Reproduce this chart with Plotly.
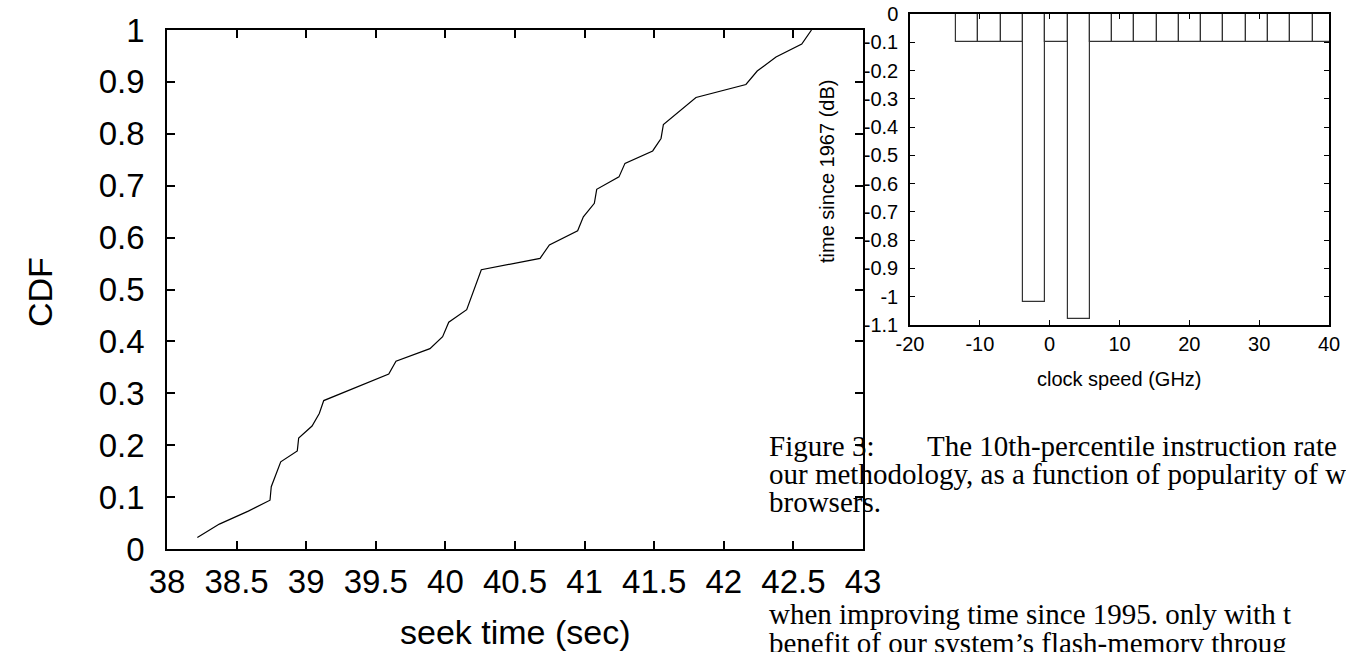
import plotly.graph_objects as go

W, H = 1346, 652

# ---- main CDF chart data ----
cdf_x = [38.218, 38.376, 38.584, 38.74, 38.749, 38.817, 38.936, 38.946, 39.042, 39.094,
         39.126, 39.593, 39.645, 39.889, 39.98, 40.024, 40.153, 40.258, 40.68, 40.747,
         40.95, 40.991, 41.07, 41.087, 41.247, 41.29, 41.489, 41.549, 41.566, 41.685,
         41.80, 42.159, 42.24, 42.375, 42.56, 42.63]
cdf_y = [0.022, 0.048, 0.073, 0.094, 0.120, 0.168, 0.189, 0.214, 0.237, 0.261,
         0.286, 0.337, 0.362, 0.386, 0.409, 0.437, 0.461, 0.538, 0.560, 0.586,
         0.613, 0.640, 0.666, 0.693, 0.717, 0.743, 0.767, 0.791, 0.818, 0.845,
         0.870, 0.895, 0.921, 0.948, 0.973, 1.0]
main_xticks = [38, 38.5, 39, 39.5, 40, 40.5, 41, 41.5, 42, 42.5, 43]
main_yticks = [0, 0.1, 0.2, 0.3, 0.4, 0.5, 0.6, 0.7, 0.8, 0.9, 1]

# ---- inset bar chart data ----
inset_x = [-11.8, -8.61, -5.42, -2.23, 0.96, 4.15, 7.34, 10.53, 13.72, 16.91,
           20.1, 23.29, 26.48, 29.67, 32.86, 36.05, 39.24]
inset_y = [-0.1, -0.1, -0.1, -1.02, -0.1, -1.08, -0.1, -0.1, -0.1, -0.1,
           -0.1, -0.1, -0.1, -0.1, -0.1, -0.1, -0.1]
inset_xticks = [-20, -10, 0, 10, 20, 30, 40]
inset_xlabels = ["-20", "-10", "0", "10", "20", "30", "40"]
inset_yticks = [0, -0.1, -0.2, -0.3, -0.4, -0.5, -0.6, -0.7, -0.8, -0.9, -1, -1.1]
inset_ylabels = ["0", "-0.1", "-0.2", "-0.3", "-0.4", "-0.5", "-0.6", "-0.7", "-0.8",
                 "-0.9", "-1", "-1.1"]

caption_lines = ["our methodology, as a function of popularity of w", "browsers."]
body_lines = ["when improving time since 1995. only with t",
              "benefit of our system\u2019s flash-memory throug"]

SANS = "Liberation Sans, Arial, sans-serif"
SERIF = "Liberation Serif, Times New Roman, serif"


def px(x):
    return x / W


def py(y):
    return 1 - y / H


fig = go.Figure()
fig.add_trace(go.Scatter(x=cdf_x, y=cdf_y, mode="lines",
                         line=dict(color="black", width=1.2),
                         xaxis="x", yaxis="y", showlegend=False))
fig.add_trace(go.Bar(x=inset_x, y=inset_y, width=3.19, base=0,
                     marker=dict(color="white", line=dict(color="#333333", width=1.2)),
                     xaxis="x2", yaxis="y2", showlegend=False))

axis_common = dict(showgrid=False, zeroline=False, showline=True, linecolor="black",
                   ticks="inside", mirror="ticks", tickcolor="black", automargin=False)

fig.update_layout(
    template="none",
    width=W, height=H, autosize=False,
    margin=dict(l=0, r=0, t=0, b=0, pad=0),
    paper_bgcolor="white", plot_bgcolor="white",
    xaxis=dict(domain=[px(167), px(863)], range=[38, 43], tickvals=main_xticks,
               linewidth=1.5, ticklen=8, tickwidth=1.5,
               tickfont=dict(family=SANS, size=33, color="black"),
               ticklabelstandoff=3, anchor="y", **axis_common),
    yaxis=dict(domain=[py(549), py(30)], range=[0, 1], tickvals=main_yticks,
               linewidth=1.5, ticklen=8, tickwidth=1.5,
               tickfont=dict(family=SANS, size=33, color="black"),
               ticklabelstandoff=14, anchor="x", **axis_common),
    xaxis2=dict(domain=[px(910), px(1329)], range=[-20, 40], tickvals=inset_xticks,
                ticktext=inset_xlabels, linewidth=1.5, ticklen=5, tickwidth=1,
                tickfont=dict(family=SANS, size=20, color="black"),
                ticklabelstandoff=0, anchor="y2", **axis_common),
    yaxis2=dict(domain=[py(325), py(14)], range=[-1.1, 0], tickvals=inset_yticks,
                ticktext=inset_ylabels, linewidth=1.5, ticklen=5, tickwidth=1,
                tickfont=dict(family=SANS, size=20, color="black"),
                ticklabelstandoff=6, anchor="x2", **axis_common),
    bargap=0,
)

annotations = [
    dict(text="CDF", x=px(40), y=py(292), textangle=-90,
         font=dict(family=SANS, size=34, color="black")),
    dict(text="seek time (sec)", x=px(515), y=py(632),
         font=dict(family=SANS, size=34, color="black")),
    dict(text="time since 1967 (dB)", x=px(827), y=py(172), textangle=-90,
         font=dict(family=SANS, size=20, color="black")),
    dict(text="clock speed (GHz)", x=px(1119), y=py(379),
         font=dict(family=SANS, size=20, color="black")),
    dict(text="Figure 3:", x=px(767), y=py(446), xanchor="left",
         font=dict(family=SERIF, size=29, color="black")),
    dict(text="The 10th-percentile instruction rate", x=px(925), y=py(446), xanchor="left",
         font=dict(family=SERIF, size=29, color="black")),
]
for i, t in enumerate(caption_lines):
    annotations.append(dict(text=t, x=px(767), y=py(474 + 28 * i), xanchor="left",
                            font=dict(family=SERIF, size=29, color="black")))
for i, t in enumerate(body_lines):
    annotations.append(dict(text=t, x=px(767), y=py(614 + 29 * i), xanchor="left",
                            font=dict(family=SERIF, size=29, color="black")))

for a in annotations:
    a.update(xref="paper", yref="paper", showarrow=False,
             yanchor=a.get("yanchor", "middle"), xanchor=a.get("xanchor", "center"))
fig.update_layout(annotations=annotations)

fig.write_html("out.html")
